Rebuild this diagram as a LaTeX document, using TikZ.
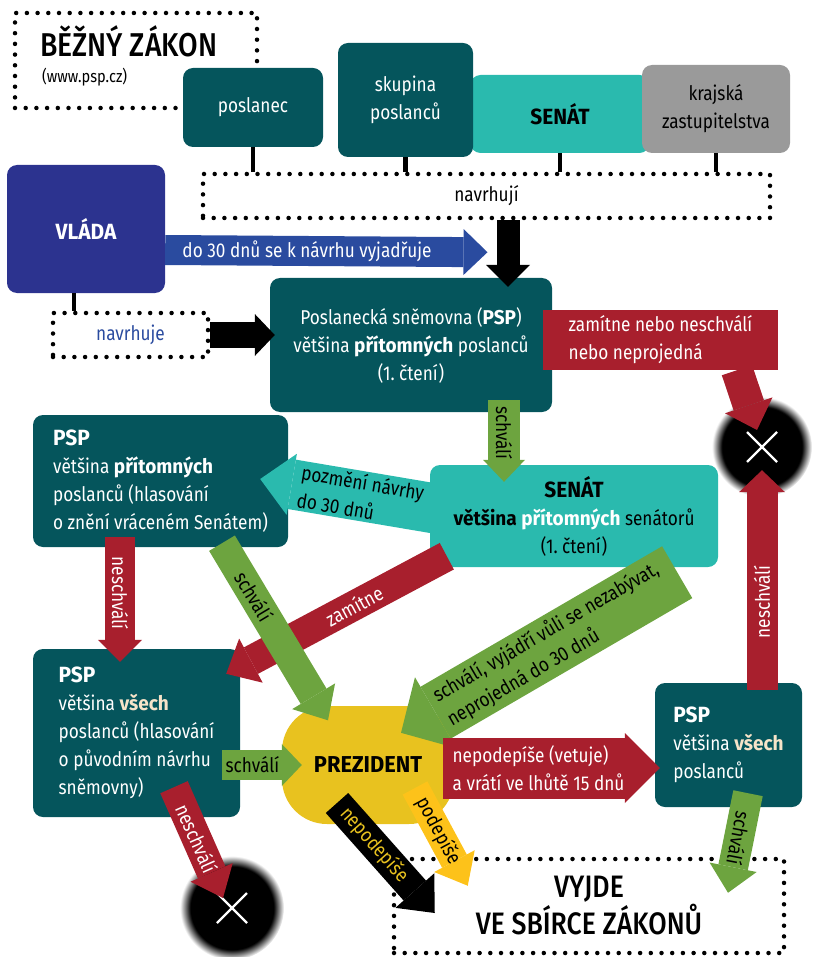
\documentclass[tikz,border=0pt]{standalone}
\usepackage{fontspec}
\setmainfont{Fira Sans}[FakeStretch=0.86, BoldFeatures={FakeStretch=0.95}]
\newfontfamily\medfont{Fira Sans Medium}[FakeStretch=0.86]
\usetikzlibrary{arrows.meta,calc}

\definecolor{pspteal}{HTML}{05555C}
\definecolor{senatteal}{HTML}{2ABAAE}
\definecolor{krajgrey}{HTML}{9A9A9A}
\definecolor{vladablue}{HTML}{2C338F}
\definecolor{vyjadrblue}{HTML}{2A4B9F}
\definecolor{nered}{HTML}{A81F2D}
\definecolor{okgreen}{HTML}{6DA43F}
\definecolor{prezyellow}{HTML}{E8C21F}
\definecolor{podpisorange}{HTML}{FDC21A}
\definecolor{cream}{HTML}{F7E4C9}

\pgfdeclareradialshading{halo}{\pgfpoint{0bp}{0bp}}{color(0bp)=(black); color(20bp)=(black); color(25bp)=(white); color(50bp)=(white)}

\newcommand\hlava[1]{{\fontsize{22}{28}\selectfont\bfseries #1}}

\begin{document}
\begin{tikzpicture}[x=1pt, y=-1pt,
  font=\fontsize{20}{28}\selectfont,
  paint/.style={rounded corners=10pt, inner sep=0pt, align=center, text=white, fill=#1},
  dotbox/.style={draw, line width=4.5pt, line cap=round, dash pattern=on 0pt off 10.7pt, inner sep=0pt},
  stick/.style={line width=4.5pt},
  konec/.style={circle, minimum size=#1, inner sep=0pt, shade, shading=halo,
    path picture={\draw[white, line width=2.2pt] (path picture bounding box.center) ++(-15,-15) -- ++(30,30) ++(0,-30) -- ++(-30,30);}},
  flow/.style n args={4}{draw=#1, line width=#2, -{Triangle[width=#3, length=#4, line width=0pt]}}
]
\useasboundingbox (0,0) rectangle (813,957);

% titulek
\node[dotbox, minimum width=242pt, minimum height=95pt] (titlebox) at (136,60.5) {};
\node[anchor=base west, inner sep=0pt, font=\medfont\fontsize{33}{36}\selectfont] (title) at (40,57) {BĚŽNÝ ZÁKON};
\node[anchor=base west, inner sep=0pt, font=\fontsize{17}{20}\selectfont] (web) at (42,83) {(www.psp.cz)};

% kdo navrhuje
\node[dotbox, minimum width=567pt, minimum height=44pt] (navrhuji) at (486.5,196) {navrhují};
\node[paint=senatteal, text=black, minimum width=179pt, minimum height=78pt] (senat1) at (560,114) {\hlava{SENÁT}};
\node[paint=pspteal, minimum width=140pt, minimum height=79pt] (poslanec) at (253,107.5) {poslanec};
\node[paint=pspteal, minimum width=135pt, minimum height=114pt] (skupina) at (405.5,100) {skupina\\poslanců};
\node[paint=krajgrey, text=black, minimum width=148pt, minimum height=88pt] (kraj) at (716,109) {krajská\\zastupitelstva};
\foreach \n in {poslanec,skupina,senat1,kraj}
  \draw[stick] (\n.south) -- (\n.south |- navrhuji.north);

\node[paint=vladablue, minimum width=158pt, minimum height=128pt] (vlada) at (86,229) {\hlava{VLÁDA}};
\node[dotbox, text=vyjadrblue, minimum width=155pt, minimum height=44pt] (navrhuje) at (130.5,335) {navrhuje};
\draw[stick] ($(vlada.south)+(-12,0)$) -- ($(vlada.south |- navrhuje.north)+(-12,0)$);

% boxy
\node[paint=pspteal, minimum width=282pt, minimum height=134pt] (psp) at (411,345) {Poslanecká sněmovna (\textbf{PSP})\\většina \textbf{přítomných} poslanců\\(1.~čtení)};
\node[fill=nered, text=white, align=left, inner sep=0pt, minimum width=235pt, minimum height=60pt] (zamitbox) at (660.5,340) {zamítne nebo neschválí\\nebo neprojedná};
\node[konec=100pt] (konec1) at (762,447) {};
\node[paint=pspteal, align=left, minimum width=255pt, minimum height=132pt] (pspL) at (160.5,481) {\hlava{PSP}\\většina \textbf{přítomných}\\poslanců (hlasování\\o znění vráceném Senátem)};
\node[paint=senatteal, text=black, minimum width=288pt, minimum height=102pt] (senat2) at (574,516) {\hlava{SENÁT}\\\textbf{většina} \textcolor{white}{\textbf{přítomných}} senátorů\\(1.~čtení)};
\node[paint=pspteal, align=left, minimum width=207pt, minimum height=168pt] (pspV) at (136.5,733) {\hlava{PSP}\\většina \textcolor{cream}{\textbf{všech}}\\poslanců (hlasování\\o původním návrhu\\sněmovny)};
\node[paint=prezyellow, rounded corners=45pt, text=black, font=\bfseries\fontsize{23}{28}\selectfont, minimum width=172pt, minimum height=118pt] (prez) at (368,765) {PREZIDENT};
\node[paint=pspteal, align=left, minimum width=147pt, minimum height=124pt] (pspR) at (728.5,745) {\hlava{PSP}\\většina \textcolor{cream}{\textbf{všech}}\\poslanců};
\node[dotbox, font=\medfont\fontsize{31}{37}\selectfont, align=center, minimum width=390pt, minimum height=94pt] (vyjde) at (589,906) {VYJDE\\VE SBÍRCE ZÁKONŮ};
\node[konec=104pt] (konec2) at (232,908) {};

% sipky
\draw[flow={vyjadrblue}{30pt}{46pt}{24pt}] ($(vlada.east)+(0,21)$) -- ($(navrhuji.south)+(1,32)$)
  node[pos=.44, text=white] {do 30 dnů se k návrhu vyjadřuje};
\draw[flow={black}{23pt}{44pt}{22pt}] ($(navrhuji.south)+(21.5,0)$) -- ($(psp.north)+(97,9)$);
\draw[flow={black}{26pt}{42pt}{20pt}] (navrhuje.east) -- ($(navrhuje.east -| psp.west)+(5,0)$);
\draw[flow={nered}{32pt}{50pt}{26pt}] ($(zamitbox.south)+(76.5,0)$) -- ($(konec1.center)+(-5,-17)$);
\draw[flow={nered}{31pt}{46pt}{22pt}] ($(pspR.north)+(33.5,7)$) -- ($(konec1.south)+(0,-27)$)
  node[pos=.4, rotate=90, text=white] {neschválí};
\draw[flow={okgreen}{32pt}{42pt}{22pt}] ($(psp.south)+(93,-12)$) -- ($(senat2.north)+(-70,17)$)
  node[pos=.4, rotate=-90] {schválí};
\draw[flow={senatteal}{50pt}{62pt}{32pt}] ($(senat2.west)+(20,-5)$) -- ($(pspL.east)+(-28,-2)$)
  node[pos=.47, sloped, align=left] {pozmění návrhy\\do 30 dnů};
\draw[flow={nered}{30pt}{44pt}{22pt}] ($(pspL.south)+(-40.5,-10)$) -- ($(pspV.north)+(-16.5,13)$)
  node[pos=.45, rotate=-90, text=white] {neschválí};
\draw[flow={nered}{30pt}{50pt}{28pt}] ($(senat2.south west)+(17,-11)$) -- ($(pspV.north east)+(-14,25)$)
  node[pos=.42, sloped, text=white] {zamítne};
\draw[flow={okgreen}{30pt}{50pt}{28pt}] ($(pspL.south)+(61.5,-4)$) -- ($(prez.north)+(-40,14.5)$)
  node[pos=.3, sloped] {schválí};
\draw[flow={okgreen}{60pt}{82pt}{40pt}] ($(senat2.south east)+(-41,5)$) -- ($(prez.north)+(33,27)$)
  node[pos=.45, sloped, align=left] {schválí, vyjádří vůli se nezabývat,\\neprojedná do 30 dnů};
\draw[flow={okgreen}{30pt}{42pt}{20pt}] ($(pspV.east)+(-18,32)$) -- ($(prez.west)+(20,0)$)
  node[pos=.38] {schválí};
\draw[flow={nered}{61pt}{70pt}{35pt}] ($(prez.east)+(-11,3)$) -- ($(pspR.west)+(5,23)$)
  node[pos=.44, text=white, align=left] {nepodepíše (vetuje)\\a vrátí ve lhůtě 15 dnů};
\draw[flow={black}{30pt}{52pt}{30pt}] ($(prez.center)+(-31,38)$) -- ($(vyjde.west)+(43,7)$)
  node[pos=.38, sloped, text=prezyellow] {nepodepíše};
\draw[flow={podpisorange}{28pt}{46pt}{28pt}] ($(prez.center)+(47,23)$) -- ($(vyjde.north west)+(76,29)$)
  node[pos=.44, sloped] {podepíše};
\draw[flow={nered}{30pt}{46pt}{28pt}] ($(pspV.south)+(37.5,-30)$) -- ($(konec2.center)+(-9,-10)$)
  node[pos=.46, sloped, text=white] {neschválí};
\draw[flow={okgreen}{30pt}{48pt}{26pt}] ($(pspR.south)+(19.5,-14)$) -- ($(vyjde.north)+(139,36)$)
  node[pos=.45, rotate=-101] {schválí};
\end{tikzpicture}
\end{document}
